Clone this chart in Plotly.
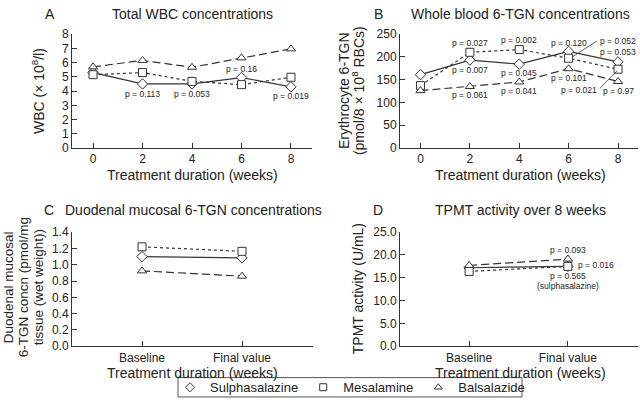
import plotly.graph_objects as go

W, H = 640, 417
FONT = "Arial, Liberation Sans, Helvetica, sans-serif"
INK = "#222222"
LINE = "#333333"

series_names = ["Sulphasalazine", "Mesalamine", "Balsalazide"]
series_symbols = ["diamond", "square", "triangle-up"]
series_dash = ["solid", "3px,3px", "8px,4px"]

# Panel A: Total WBC
weeks = [0, 2, 4, 6, 8]
wbc_sulph = [5.3, 4.5, 4.5, 4.95, 4.3]
wbc_mesal = [5.15, 5.3, 4.68, 4.45, 4.97]
wbc_bals = [5.7, 6.15, 5.67, 6.33, 6.96]

# Panel B: Whole blood 6-TGN
tgn_sulph = [161, 193, 184, 212, 189]
tgn_mesal = [137, 210, 216, 197, 173]
tgn_bals = [126, 135, 145, 174, 146]

# Panel C: Duodenal mucosal 6-TGN
stages = ["Baseline", "Final value"]
muc_sulph = [1.10, 1.085]
muc_mesal = [1.22, 1.165]
muc_bals = [0.925, 0.86]

# Panel D: TPMT activity
tpmt_sulph = [17.2, 17.5]
tpmt_mesal = [16.4, 17.5]
tpmt_bals = [17.7, 19.1]

# p-value labels
pA_text = ["p = 0.113", "p = 0.053", "p = 0.16", "p = 0.019"]
pA_x = [2, 4, 6, 8]
pA_y = [3.8, 3.8, 5.56, 3.66]

pB_text = ["p = 0.027", "p = 0.002", "p = 0.120", "p = 0.053",
           "p = 0.007", "p = 0.045", "p = 0.101", "p = 0.97",
           "p = 0.061", "p = 0.041"]
pB_x = [2, 4, 6, 8.0, 2, 4, 6, 8.0, 2, 4]
pB_y = [231, 237, 231, 210, 172, 165, 153, 125, 117, 125]

pD_text = ["p = 0.093", "p = 0.565", "(sulphasalazine)"]
pD_y = [21.2, 15.3, 13.1]

fig = go.Figure()

def px_x(p):
    return p / W

def px_y(p):
    return 1 - p / H

def add_series(xs, ys_list, xa, ya):
    for name, ys, sym, dash in zip(series_names, ys_list, series_symbols, series_dash):
        fig.add_trace(go.Scatter(
            x=xs, y=ys, mode="lines+markers", name=name, showlegend=False,
            xaxis=xa, yaxis=ya, cliponaxis=False,
            line=dict(color=LINE, width=1.2, dash=dash),
            marker=dict(symbol=sym, size=8, color="white",
                        line=dict(color=LINE, width=1)),
        ))

add_series(weeks, [wbc_sulph, wbc_mesal, wbc_bals], "x", "y")
add_series(weeks, [tgn_sulph, tgn_mesal, tgn_bals], "x2", "y2")
add_series([0, 1], [muc_sulph, muc_mesal, muc_bals], "x3", "y3")
add_series([0, 1], [tpmt_sulph, tpmt_mesal, tpmt_bals], "x4", "y4")

# legend-only entries
for name, sym in zip(series_names, series_symbols):
    fig.add_trace(go.Scatter(
        x=[None], y=[None], mode="markers", name=name, showlegend=True,
        marker=dict(symbol=sym, size=7, color="white", line=dict(color=LINE, width=1)),
    ))

axis_common = dict(
    showline=True, linecolor=LINE, linewidth=1, ticks="inside", ticklen=5,
    tickcolor=LINE, tickwidth=1, showgrid=False, zeroline=False,
    tickfont=dict(family=FONT, size=12, color=INK), fixedrange=True,
)

yA = [146, 28]
yC = [351, 233]
xA = [72, 312]
xB = [400, 638]

fig.update_layout(
    width=W, height=H, margin=dict(l=0, r=0, t=0, b=0),
    paper_bgcolor="white", plot_bgcolor="white",
    font=dict(family=FONT, color=INK),
    xaxis=dict(axis_common, domain=[px_x(xA[0]), px_x(xA[1])], range=[-0.85, 8.85],
               tickvals=weeks, anchor="y"),
    yaxis=dict(axis_common, domain=[px_y(yA[0]), px_y(yA[1])], range=[0, 8], dtick=1, anchor="x"),
    xaxis2=dict(axis_common, domain=[px_x(xB[0]), px_x(xB[1])], range=[-0.83, 8.81],
                tickvals=weeks, anchor="y2"),
    yaxis2=dict(axis_common, domain=[px_y(yA[0]), px_y(yA[1])], range=[0, 250], dtick=50, anchor="x2"),
    xaxis3=dict(axis_common, domain=[px_x(xA[0]), px_x(xA[1]) + 1 / W], range=[-0.7, 1.71],
                tickvals=[0, 1], ticktext=stages, anchor="y3"),
    yaxis3=dict(axis_common, domain=[px_y(yC[0]), px_y(yC[1])], range=[0, 1.4], dtick=0.2,
                tickformat=".1f", anchor="x3"),
    xaxis4=dict(axis_common, domain=[px_x(xB[0]), px_x(xB[1])], range=[-0.70, 1.71],
                tickvals=[0, 1], ticktext=stages, anchor="y4"),
    yaxis4=dict(axis_common, domain=[px_y(yC[0]), px_y(yC[1])], range=[0, 25], dtick=5,
                tickformat=".1f", anchor="x4"),
    showlegend=True,
    legend=dict(orientation="h", x=350 / W, xanchor="center", y=px_y(393.5), yanchor="middle",
                borderwidth=0, font=dict(family=FONT, size=13, color=INK),
                itemwidth=30, tracegroupgap=0, bgcolor="rgba(0,0,0,0)"),
)

# legend frame
fig.add_shape(type="rect", xref="paper", yref="paper",
              x0=px_x(178), x1=px_x(522), y0=px_y(403.5), y1=px_y(383.5),
              line=dict(color="#555555", width=1))

def paper_text(text, x, y, size=14, xanchor="center", textangle=0):
    fig.add_annotation(text=text, x=px_x(x), y=px_y(y), xref="paper", yref="paper",
                       showarrow=False, xanchor=xanchor, yanchor="middle",
                       textangle=textangle,
                       font=dict(family=FONT, size=size, color=INK))

# panel titles
paper_text("A", 50, 7)
paper_text("Total WBC concentrations", 192, 7)
paper_text("B", 378, 7)
paper_text("Whole blood 6-TGN concentrations", 520, 7)
paper_text("C", 49, 210)
paper_text("Duodenal mucosal 6-TGN concentrations", 193, 210)
paper_text("D", 378, 210)
paper_text("TPMT activity over 8 weeks", 520, 210)

# x titles
paper_text("Treatment duration (weeks)", 192, 173.5)
paper_text("Treatment duration (weeks)", 520, 173.5)
paper_text("Treatment duration (weeks)", 192, 378.5)
paper_text("Treatment duration (weeks)", 520, 378.5)

# y titles
paper_text("WBC (× 10<sup>8</sup>/l)", 38, 87, textangle=-90)
paper_text("Erythrocyte 6-TGN", 344, 87, textangle=-90)
paper_text("(pmol/8 × 10<sup>8</sup> RBCs)", 358, 87, textangle=-90)
paper_text("Duodenal mucosal", 8, 290, size=13.5, textangle=-90)
paper_text("6-TGN concn (pmol/mg", 23, 290, size=13.5, textangle=-90)
paper_text("tissue (wet weight))", 38, 290, size=13.5, textangle=-90)
paper_text("TPMT activity (U/mL)", 358, 292, textangle=-90)

def data_text(text, x, y, xa, ya, xanchor="center"):
    fig.add_annotation(text=text, x=x, y=y, xref=xa, yref=ya, showarrow=False,
                       xanchor=xanchor, yanchor="middle",
                       font=dict(family=FONT, size=8.5, color=INK))

for t, x, y in zip(pA_text, pA_x, pA_y):
    data_text(t, x, y, "x", "y")
for t, x, y in zip(pB_text, pB_x, pB_y):
    data_text(t, x, y, "x2", "y2")
data_text("p = 0.052", 7.17, 235, "x2", "y2", xanchor="left")
data_text("p = 0.021", 7.24, 127, "x2", "y2", xanchor="right")
for t, y in zip(pD_text, pD_y):
    data_text(t, 1, y, "x4", "y4")
data_text("p = 0.016", 1.08, 17.8, "x4", "y4", xanchor="left")

# leader lines in panel B
fig.add_shape(type="line", xref="x2", yref="y2", x0=6.18, y0=201, x1=7.15, y1=235,
              line=dict(color=LINE, width=0.8))
fig.add_shape(type="line", xref="x2", yref="y2", x0=7.27, y0=131, x1=7.96, y1=169,
              line=dict(color=LINE, width=0.8))

fig.write_html("out.html", config={"displayModeBar": False},
               post_script="document.body.style.margin='0';")
